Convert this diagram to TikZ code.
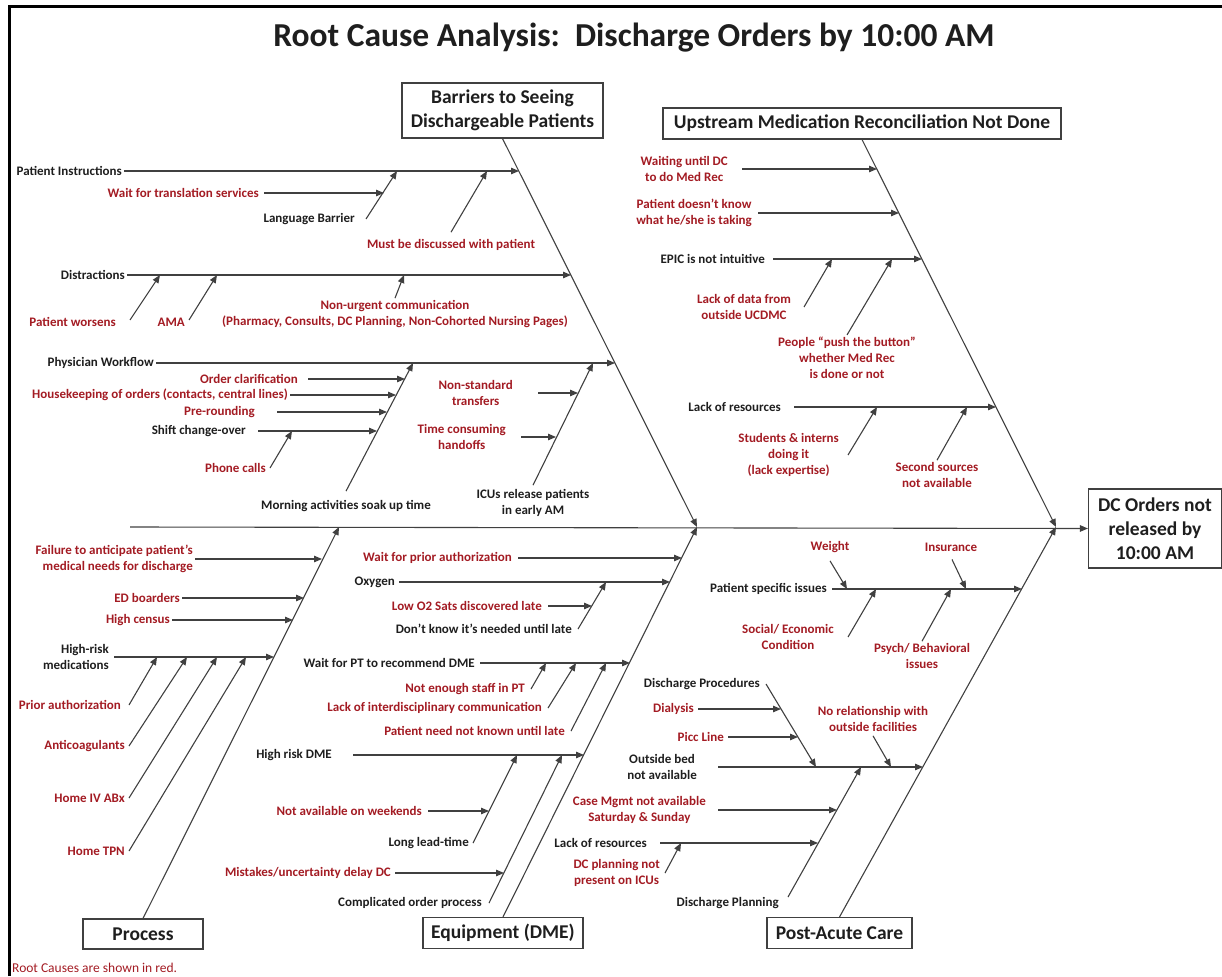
\documentclass[tikz,border=0pt]{standalone}
\usepackage{fontspec}
\setmainfont{Carlito}
\usepackage{tikz}
\usetikzlibrary{arrows.meta}
\definecolor{causered}{RGB}{163,27,35}
\definecolor{linegray}{RGB}{64,64,64}
\definecolor{textgray}{RGB}{30,30,30}

\begin{document}
\begin{tikzpicture}[x=1pt,y=-1pt,
    lbl/.style={font=\fontsize{13}{16}\selectfont\bfseries,text=textgray,inner sep=2pt,align=center},
    root/.style={lbl,text=causered},
    cat/.style={draw=linegray,line width=1.1pt,font=\fontsize{19.5}{24}\selectfont\bfseries,text=textgray,align=center,inner sep=0pt},
    arr/.style={draw=linegray,line width=1.1pt,-{Triangle[length=8pt,width=6.5pt]}}]
                \useasboundingbox (0,0) rectangle (1222,976);
                \draw[line width=3pt] (9,976) -- (9,7) -- (1222,7);

                \node[font=\fontsize{33.5}{38}\selectfont\bfseries,text=textgray] (title) at (634,38) {Root Cause Analysis:\ \ Discharge Orders by 10:00 AM};

                \node[cat,minimum width=201pt,minimum height=55pt] (bar) at (502.5,110.5) {Barriers to Seeing\\Dischargeable Patients};
                \node[cat,minimum width=398pt,minimum height=31pt] (ups) at (862,123.5) {Upstream Medication Reconciliation Not Done};
                \node[cat,minimum width=133pt,minimum height=79pt] (dco) at (1155,528.5) {DC Orders not\\released by\\10:00 AM};
                \node[cat,minimum width=120pt,minimum height=30pt] (pro) at (143,934) {Process};
                \node[cat,minimum width=160pt,minimum height=31pt] (equ) at (503,933) {Equipment (DME)};
                \node[cat,minimum width=145pt,minimum height=31pt] (pac) at (839.5,933) {Post-Acute Care};

                \coordinate (sp) at (130,527);
                \coordinate (j1) at (697,527);
                \coordinate (j2) at (1056,527);
                \coordinate (pj) at (339,527);
                \draw[arr] (sp) -- (dco.west);
                \draw[arr] (bar.south) -- (j1);
                \draw[arr] (ups.south) -- (j2);
                \draw[arr] (pro.north) -- (pj);
                \draw[arr] (equ.north) -- (j1);
                \draw[arr] (pac.north) -- (j2);

                \node[lbl,anchor=east] (pi) at (124,171) {Patient Instructions};
                \node[root,anchor=east] (wts) at (261,193) {Wait for translation services};
                \node[lbl,anchor=east] (lb) at (357,219) {Language Barrier};
                \node[root] (mdp) at (451,245) {Must be discussed with patient};
                \coordinate (pi-t) at (519,171);
                \coordinate (wts-t) at (384,193);
                \coordinate (lb-t) at (397,171);
                \coordinate (mdp-t) at (487,171);
                \draw[arr] (pi.east) -- (pi-t);
                \draw[arr] ([xshift=3pt]wts.east) -- (wts-t);
                \draw[arr] ([xshift=9pt]lb.east) -- (lb-t);
                \draw[arr] ([yshift=5pt]mdp.north) -- (mdp-t);

                \node[lbl,anchor=east] (dis) at (127,275) {Distractions};
                \node[root,anchor=east] (pw) at (118,322) {Patient worsens};
                \node[root,anchor=east] (ama) at (187,322) {AMA};
                \node[root] (nuc) at (395,314) {Non-urgent communication\\(Pharmacy, Consults, DC Planning, Non-Cohorted Nursing Pages)};
                \coordinate (dis-t) at (571,275);
                \coordinate (pw-t) at (160,275);
                \coordinate (ama-t) at (217,275);
                \coordinate (nuc-t) at (404,275);
                \draw[arr] (dis.east) -- (dis-t);
                \draw[arr] ([xshift=12pt,yshift=2pt]pw.east) -- (pw-t);
                \draw[arr] ([xshift=2pt,yshift=2pt]ama.east) -- (ama-t);
                \draw[arr] (nuc.north) -- (nuc-t);

                \node[lbl,anchor=east] (phw) at (156,363) {Physician Workflow};
                \node[lbl] (mor) at (346,506) {Morning activities soak up time};
                \node[root,anchor=east] (ocl) at (300,379) {Order clarification};
                \node[root,anchor=east] (hko) at (290,395) {Housekeeping of orders (contacts, central lines)};
                \node[root,anchor=east] (prr) at (257,412) {Pre-rounding};
                \node[lbl,anchor=east] (shc) at (248,431) {Shift change-over};
                \node[root,anchor=east] (phc) at (268,468) {Phone calls};
                \node[lbl] (icu) at (533,503) {ICUs release patients\\in early AM};
                \node[root,anchor=east] (nst) at (515,393) {Non-standard\\transfers};
                \node[root,anchor=east] (tch) at (508,437) {Time consuming\\handoffs};
                \coordinate (phw-t) at (615,363);
                \coordinate (mor-t) at (413,363);
                \coordinate (ocl-t) at (405,379);
                \coordinate (hko-t) at (396,395);
                \coordinate (prr-t) at (387,412);
                \coordinate (shc-t) at (377,431);
                \coordinate (phc-t) at (292,431);
                \coordinate (icu-t) at (593,363);
                \coordinate (nst-t) at (578,393);
                \coordinate (tch-t) at (556,437);
                \draw[arr] (phw.east) -- (phw-t);
                \draw[arr] ([yshift=7pt]mor.north) -- (mor-t);
                \draw[arr] ([xshift=8pt]ocl.east) -- (ocl-t);
                \draw[arr] (hko.east) -- (hko-t);
                \draw[arr] ([xshift=20pt]prr.east) -- (prr-t);
                \draw[arr] ([xshift=10pt]shc.east) -- (shc-t);
                \draw[arr] ([xshift=2pt]phc.east) -- (phc-t);
                \draw[arr] ([yshift=2pt]icu.north) -- (icu-t);
                \draw[arr] ([xshift=23pt]nst.east) -- (nst-t);
                \draw[arr] ([xshift=13pt]tch.east) -- (tch-t);

                \node[root,anchor=east] (wud) at (730,169) {Waiting until DC\\to do Med Rec};
                \node[root,anchor=east] (pdk) at (754,213) {Patient doesn’t know\\what he/she is taking};
                \node[lbl,anchor=east] (epi) at (767,259) {EPIC is not intuitive};
                \node[root,anchor=east] (ldo) at (793,307) {Lack of data from\\outside UCDMC};
                \node[root] (pph) at (847,358) {People “push the button”\\whether Med Rec\\is done or not};
                \node[lbl,anchor=east] (lor) at (783,407) {Lack of resources};
                \node[root,anchor=east] (sid) at (841,455) {Students \& interns\\doing it\\(lack expertise)};
                \node[root] (ssn) at (937,475) {Second sources\\not available};
                \coordinate (wud-t) at (877,169);
                \coordinate (pdk-t) at (899,213);
                \coordinate (epi-t) at (922,259);
                \coordinate (ldo-t) at (832,259);
                \coordinate (pph-t) at (892,259);
                \coordinate (lor-t) at (996,407);
                \coordinate (sid-t) at (877,407);
                \coordinate (ssn-t) at (967,407);
                \draw[arr] ([xshift=12pt]wud.east) -- (wud-t);
                \draw[arr] ([xshift=4pt]pdk.east) -- (pdk-t);
                \draw[arr] ([xshift=6pt]epi.east) -- (epi-t);
                \draw[arr] ([xshift=11pt]ldo.east) -- (ldo-t);
                \draw[arr] (pph.north) -- (pph-t);
                \draw[arr] ([xshift=11pt]lor.east) -- (lor-t);
                \draw[arr] ([xshift=7pt]sid.east) -- (sid-t);
                \draw[arr] (ssn.north) -- (ssn-t);

                \node[root,align=right,anchor=east] (fta) at (195,559) {Failure to anticipate patient’s\\medical needs for discharge};
                \node[root,anchor=east] (edb) at (182,598) {ED boarders};
                \node[root,anchor=east] (hce) at (172,620) {High census};
                \node[lbl,align=right,anchor=east] (hrm) at (111,657) {High-risk\\medications};
                \node[root,anchor=east] (pau) at (123,705) {Prior authorization};
                \node[root,anchor=east] (anc) at (127,746) {Anticoagulants};
                \node[root,anchor=east] (hiv) at (127,798) {Home IV ABx};
                \node[root,anchor=east] (htp) at (127,851) {Home TPN};
                \coordinate (fta-t) at (322,559);
                \coordinate (edb-t) at (304,598);
                \coordinate (hce-t) at (293,620);
                \coordinate (hrm-t) at (274,657);
                \coordinate (pau-t) at (157,657);
                \coordinate (anc-t) at (187,657);
                \coordinate (hiv-t) at (217,657);
                \coordinate (htp-t) at (246,657);
                \draw[arr] (fta.east) -- (fta-t);
                \draw[arr] (edb.east) -- (edb-t);
                \draw[arr] (hce.east) -- (hce-t);
                \draw[arr] ([xshift=3pt]hrm.east) -- (hrm-t);
                \draw[arr] ([xshift=6pt]pau.east) -- (pau-t);
                \draw[arr] ([xshift=2pt]anc.east) -- (anc-t);
                \draw[arr] ([xshift=2pt]hiv.east) -- (hiv-t);
                \draw[arr] ([xshift=2pt]htp.east) -- (htp-t);

                \node[root,anchor=east] (wpa) at (514,558) {Wait for prior authorization};
                \node[lbl,anchor=east] (oxy) at (397,582) {Oxygen};
                \node[root,anchor=east] (lo2) at (544,606) {Low O2 Sats discovered late};
                \node[lbl,anchor=east] (dkn) at (574,629) {Don’t know it’s needed until late};
                \node[lbl,anchor=east] (wpt) at (477,663) {Wait for PT to recommend DME};
                \node[root,anchor=east] (nes) at (527,689) {Not enough staff in PT};
                \node[root,anchor=east] (lic) at (544,708) {Lack of interdisciplinary communication};
                \node[root,anchor=east] (pnk) at (567,731) {Patient need not known until late};
                \node[lbl,anchor=east] (hrd) at (334,755) {High risk DME};
                \node[lbl,anchor=east] (llt) at (471,843) {Long lead-time};
                \node[root,anchor=east] (naw) at (424,811) {Not available on weekends};
                \node[lbl,anchor=east] (cop) at (484,903) {Complicated order process};
                \node[root,anchor=east] (mud) at (393,873) {Mistakes/uncertainty delay DC};
                \coordinate (wpa-t) at (682,558);
                \coordinate (oxy-t) at (670,582);
                \coordinate (lo2-t) at (592,606);
                \coordinate (dkn-t) at (606,582);
                \coordinate (wpt-t) at (630,663);
                \coordinate (nes-t) at (546,663);
                \coordinate (lic-t) at (576,663);
                \coordinate (pnk-t) at (606,663);
                \coordinate (hrd-t) at (584,755);
                \coordinate (llt-t) at (517,755);
                \coordinate (naw-t) at (489,811);
                \coordinate (cop-t) at (562,755);
                \coordinate (mud-t) at (504,873);
                \draw[arr] ([xshift=4pt]wpa.east) -- (wpa-t);
                \draw[arr] ([xshift=2pt]oxy.east) -- (oxy-t);
                \draw[arr] ([xshift=4pt]lo2.east) -- (lo2-t);
                \draw[arr] ([xshift=4pt]dkn.east) -- (dkn-t);
                \draw[arr] ([xshift=3pt]wpt.east) -- (wpt-t);
                \draw[arr] ([xshift=4pt]nes.east) -- (nes-t);
                \draw[arr] ([xshift=4pt]lic.east) -- (lic-t);
                \draw[arr] ([xshift=4pt]pnk.east) -- (pnk-t);
                \draw[arr] ([xshift=19pt]hrd.east) -- (hrd-t);
                \draw[arr] ([xshift=2pt]llt.east) -- (llt-t);
                \draw[arr] ([xshift=4pt]naw.east) -- (naw-t);
                \draw[arr] ([xshift=5pt]cop.east) -- (cop-t);
                \draw[arr] ([xshift=2pt]mud.east) -- (mud-t);

                \node[lbl,anchor=east] (psi) at (829,589) {Patient specific issues};
                \node[root] (wei) at (830,547) {Weight};
                \node[root] (ins) at (951,547) {Insurance};
                \node[root,anchor=east] (soc) at (836,637) {Social/ Economic\\Condition};
                \node[root] (psy) at (922,656) {Psych/ Behavioral\\issues};
                \node[lbl,anchor=east] (obn) at (699,767) {Outside bed\\not available};
                \node[lbl,anchor=east] (dpr) at (762,684) {Discharge Procedures};
                \node[root,anchor=east] (dia) at (696,709) {Dialysis};
                \node[root,anchor=east] (pic) at (726,737) {Picc Line};
                \node[root] (nrw) at (873,719) {No relationship with\\outside facilities};
                \node[lbl,anchor=east] (dpl) at (781,903) {Discharge Planning};
                \node[root,anchor=east] (cmn) at (708,810) {Case Mgmt not available\\Saturday \& Sunday};
                \node[lbl,anchor=east] (lr2) at (649,843) {Lack of resources};
                \node[root,anchor=east] (dcp) at (662,873) {DC planning not\\present on ICUs};
                \coordinate (psi-t) at (1022,589);
                \coordinate (wei-t) at (847,589);
                \coordinate (ins-t) at (966,589);
                \coordinate (soc-t) at (876,589);
                \coordinate (psy-t) at (951,589);
                \coordinate (obn-t) at (923,767);
                \coordinate (dpr-t) at (816,767);
                \coordinate (dia-t) at (781,709);
                \coordinate (pic-t) at (798,737);
                \coordinate (nrw-t) at (891,767);
                \coordinate (dpl-t) at (861,767);
                \coordinate (cmn-t) at (837,810);
                \coordinate (lr2-t) at (818,843);
                \coordinate (dcp-t) at (681,843);
                \draw[arr] ([xshift=3pt]psi.east) -- (psi-t);
                \draw[arr] ([yshift=-6pt]wei.south) -- (wei-t);
                \draw[arr] ([xshift=1pt,yshift=-6pt]ins.south) -- (ins-t);
                \draw[arr] ([xshift=12pt]soc.east) -- (soc-t);
                \draw[arr] (psy.north) -- (psy-t);
                \draw[arr] ([xshift=19pt]obn.east) -- (obn-t);
                \draw[arr] ([xshift=4pt]dpr.east) -- (dpr-t);
                \draw[arr] ([xshift=2pt]dia.east) -- (dia-t);
                \draw[arr] ([xshift=2pt]pic.east) -- (pic-t);
                \draw[arr] ([yshift=-2pt]nrw.south) -- (nrw-t);
                \draw[arr] ([xshift=7pt,yshift=6pt]dpl.east) -- (dpl-t);
                \draw[arr] ([xshift=10pt]cmn.east) -- (cmn-t);
                \draw[arr] ([xshift=11pt]lr2.east) -- (lr2-t);
                \draw[arr] ([xshift=3pt]dcp.east) -- (dcp-t);

                \node[anchor=west,inner sep=0pt,text=causered,font=\fontsize{13.5}{16}\selectfont] (note) at (12,968) {Root Causes are shown in red.};
\end{tikzpicture}
\end{document}
